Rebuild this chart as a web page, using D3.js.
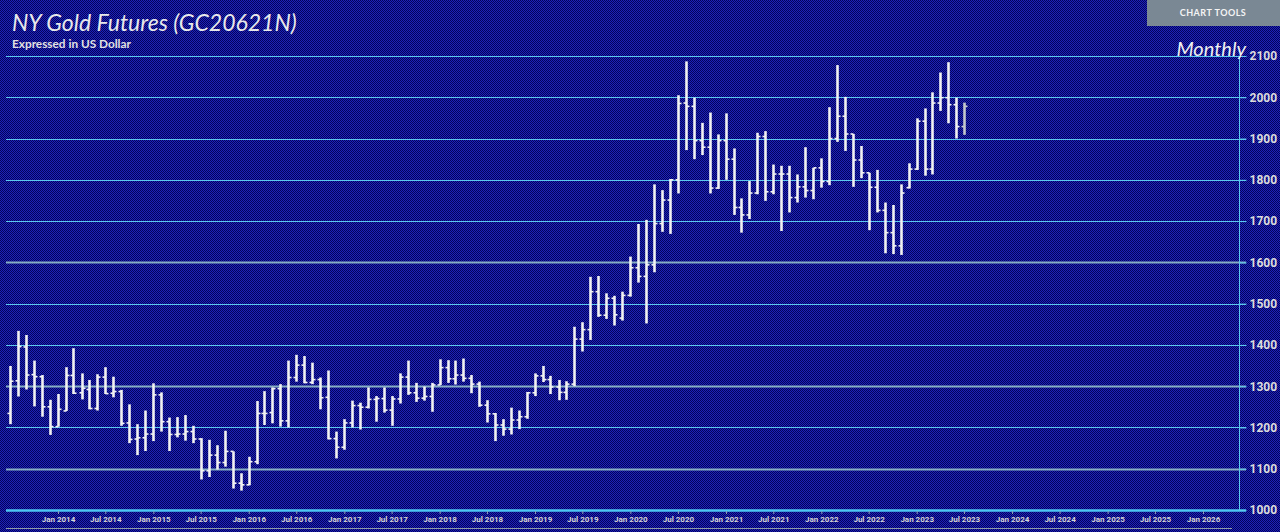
<!DOCTYPE html>
<html>
<head>
<meta charset="utf-8">
<script src="https://d3js.org/d3.v7.min.js"></script>
<style>
  body { margin: 0; background: #10108a; overflow: hidden; }
  svg { display: block; }
</style>
</head>
<body>
<div id="chart"></div>
<script>

// monthly bars, Jul 2013 .. Jul 2023 (one value per month)
var firstMonth = "2013-07";
var lastMonth = "2023-07";

var opens = [
  1234, 1313, 1395, 1328, 1323, 1250,
  1202, 1240, 1326, 1284, 1292, 1246, 1322, 1283, 1287, 1211, 1172, 1175,
  1184, 1279, 1214, 1183, 1184, 1190, 1172, 1095, 1133, 1115, 1142, 1065,
  1061, 1117, 1234, 1236, 1294, 1216, 1321, 1351, 1309, 1316, 1273, 1173,
  1152, 1211, 1253, 1249, 1268, 1270, 1242, 1269, 1322, 1284, 1271, 1275,
  1303, 1345, 1318, 1327, 1319, 1305, 1254, 1233, 1206, 1196, 1218, 1226,
  1284, 1325, 1316, 1298, 1285, 1305, 1414, 1437, 1529, 1472, 1513, 1465,
  1520, 1587, 1566, 1594, 1694, 1751, 1800, 1986, 1978, 1895, 1879, 1780,
  1895, 1850, 1733, 1715, 1768, 1905, 1771, 1814, 1814, 1757, 1783, 1774,
  1829, 1796, 1900, 1954, 1911, 1848, 1817, 1782, 1726, 1672, 1640, 1781,
  1826, 1942, 1826, 1986, 1999, 1982, 1929
];
var highs = [
  1349, 1434, 1424, 1362, 1327, 1267,
  1281, 1346, 1392, 1331, 1315, 1329, 1346, 1323, 1291, 1256, 1208, 1241,
  1307, 1285, 1224, 1225, 1230, 1204, 1174, 1170, 1157, 1192, 1142, 1089,
  1129, 1264, 1288, 1297, 1305, 1362, 1376, 1373, 1357, 1321, 1338, 1190,
  1220, 1265, 1260, 1297, 1276, 1297, 1276, 1331, 1362, 1308, 1299, 1308,
  1365, 1363, 1362, 1367, 1327, 1311, 1266, 1235, 1220, 1248, 1241, 1286,
  1331, 1349, 1325, 1315, 1312, 1444, 1455, 1565, 1567, 1525, 1519, 1529,
  1614, 1693, 1703, 1789, 1775, 1802, 2005, 2087, 1999, 1938, 1963, 1910,
  1961, 1876, 1755, 1797, 1914, 1918, 1837, 1834, 1834, 1813, 1879, 1829,
  1852, 1976, 2078, 2001, 1911, 1882, 1817, 1824, 1745, 1739, 1789, 1840,
  1949, 1973, 2012, 2060, 2085, 1999, 1987
];
var lows = [
  1208, 1275, 1292, 1251, 1226, 1182,
  1202, 1240, 1281, 1268, 1244, 1241, 1281, 1273, 1204, 1162, 1133, 1143,
  1167, 1190, 1143, 1176, 1168, 1162, 1074, 1080, 1098, 1105, 1052, 1047,
  1060, 1111, 1206, 1210, 1202, 1200, 1311, 1307, 1305, 1244, 1171, 1125,
  1146, 1200, 1195, 1246, 1214, 1236, 1204, 1258, 1279, 1262, 1265, 1238,
  1303, 1308, 1304, 1311, 1283, 1250, 1212, 1167, 1180, 1183, 1196, 1221,
  1276, 1310, 1281, 1266, 1267, 1300, 1384, 1412, 1468, 1463, 1447, 1459,
  1517, 1551, 1452, 1576, 1674, 1669, 1767, 1872, 1850, 1860, 1767, 1778,
  1800, 1715, 1672, 1705, 1765, 1749, 1765, 1676, 1721, 1745, 1757, 1753,
  1781, 1787, 1892, 1870, 1783, 1804, 1678, 1721, 1622, 1620, 1618, 1779,
  1824, 1810, 1813, 1967, 1937, 1900, 1909
];
var closes = [
  1312, 1396, 1327, 1323, 1250, 1202,
  1244, 1326, 1283, 1295, 1246, 1322, 1282, 1287, 1210, 1171, 1175, 1184,
  1279, 1214, 1183, 1184, 1190, 1172, 1095, 1133, 1115, 1142, 1065, 1061,
  1117, 1234, 1234, 1294, 1216, 1321, 1351, 1309, 1316, 1272, 1173, 1152,
  1211, 1253, 1249, 1268, 1270, 1242, 1269, 1322, 1284, 1271, 1275, 1303,
  1345, 1318, 1327, 1319, 1305, 1254, 1233, 1206, 1196, 1218, 1226, 1284,
  1325, 1316, 1298, 1285, 1305, 1414, 1437, 1529, 1472, 1513, 1473, 1520,
  1587, 1566, 1594, 1694, 1751, 1800, 1985, 1978, 1895, 1879, 1780, 1895,
  1850, 1733, 1715, 1768, 1905, 1771, 1814, 1814, 1757, 1783, 1774, 1829,
  1796, 1900, 1954, 1911, 1848, 1817, 1782, 1726, 1672, 1640, 1768, 1826,
  1942, 1826, 1986, 1999, 1982, 1929, 1978
];

// axis ticks
var priceTicks = [1000, 1100, 1200, 1300, 1400, 1500, 1600, 1700, 1800, 1900, 2000, 2100];
var dateTicks = ["2014-01", "2014-07", "2015-01", "2015-07", "2016-01", "2016-07",
  "2017-01", "2017-07", "2018-01", "2018-07", "2019-01", "2019-07", "2020-01",
  "2020-07", "2021-01", "2021-07", "2022-01", "2022-07", "2023-01", "2023-07",
  "2024-01", "2024-07", "2025-01", "2025-07", "2026-01"];
// grid lines that look faded in the original
var fadedLines = [1100, 1300, 1600];

var W = 1280, H = 532;
var parseMonth = d3.utcParse("%Y-%m");

var months = d3.utcMonth.range(parseMonth(firstMonth), d3.utcMonth.offset(parseMonth(lastMonth), 1));
var data = months.map(function(m, i) {
  return { date: m, o: opens[i], h: highs[i], l: lows[i], c: closes[i] };
});

var svg = d3.select("#chart").append("svg")
  .attr("width", W)
  .attr("height", H);

// dithered navy background
var defs = svg.append("defs");
var pat = defs.append("pattern")
  .attr("id", "dither")
  .attr("width", 2).attr("height", 2)
  .attr("patternUnits", "userSpaceOnUse");
pat.append("rect").attr("width", 2).attr("height", 2).attr("fill", "#1e22b8");
pat.append("rect").attr("x", 0).attr("y", 0).attr("width", 1).attr("height", 1).attr("fill", "#03035c");
pat.append("rect").attr("x", 1).attr("y", 1).attr("width", 1).attr("height", 1).attr("fill", "#03035c");

svg.append("rect")
  .attr("width", W).attr("height", H)
  .attr("fill", "url(#dither)")
  .attr("shape-rendering", "crispEdges");

var plotLeft = 6, plotRight = 1239, plotTop = 56, plotBottom = 510;

var x = d3.scaleUtc()
  .domain([parseMonth("2014-01"), parseMonth("2026-01")])
  .range([58, 1203]);

var y = d3.scaleLinear()
  .domain([1000, 2100])
  .range([plotBottom, plotTop]);

// horizontal grid
svg.append("g")
  .selectAll("line").data(priceTicks).enter()
  .append("line")
  .attr("x1", plotLeft)
  .attr("x2", plotRight + 7)
  .attr("y1", function(d) { return Math.round(y(d)) + 0.5; })
  .attr("y2", function(d) { return Math.round(y(d)) + 0.5; })
  .attr("stroke", function(d) { return fadedLines.indexOf(d) >= 0 ? "#86aec4" : "#5cc8ee"; })
  .attr("stroke-width", function(d) { return fadedLines.indexOf(d) >= 0 ? 2 : 1; });

// bottom axis line (thicker)
svg.append("line")
  .attr("x1", plotLeft).attr("x2", plotRight + 7)
  .attr("y1", plotBottom + 0.5).attr("y2", plotBottom + 0.5)
  .attr("stroke", "#4cc4f2")
  .attr("stroke-width", 2.5);

// right axis
var yAxis = svg.append("g")
  .attr("transform", "translate(" + (plotRight + 0.5) + ",0)")
  .call(d3.axisRight(y).tickValues(priceTicks).tickSize(7).tickPadding(3).tickFormat(d3.format("d")));
yAxis.select(".domain").attr("stroke", "#5cc8ee").attr("d", "M0," + plotTop + "V" + plotBottom);
yAxis.selectAll(".tick line").attr("stroke", "#5cc8ee");
yAxis.selectAll(".tick text")
  .attr("fill", "#dcdcdc")
  .style("font-family", "Roboto, sans-serif")
  .style("font-size", "12px")
  .style("font-weight", "bold");

// bottom axis
var xAxis = svg.append("g")
  .attr("transform", "translate(0," + (plotBottom + 1) + ")")
  .call(d3.axisBottom(x)
    .tickValues(dateTicks.map(parseMonth))
    .tickSize(3).tickPadding(2)
    .tickFormat(d3.utcFormat("%b %Y")));
xAxis.select(".domain").remove();
xAxis.selectAll(".tick line").attr("stroke", "#8aa0b8");
xAxis.selectAll(".tick text")
  .attr("fill", "#d4d4d4")
  .style("font-family", "Roboto, sans-serif")
  .style("font-size", "8px")
  .style("font-weight", "bold");

// navigator strip (cut off at the bottom)
svg.append("line")
  .attr("x1", plotLeft).attr("x2", 1232)
  .attr("y1", 528.5).attr("y2", 528.5)
  .attr("stroke", "#8d9aa8").attr("stroke-width", 1);

// OHLC bars
var bars = svg.append("g").selectAll("g").data(data).enter()
  .append("g")
  .attr("stroke", function(d, i) { return i == data.length - 1 ? "#c4c8cc" : "#f2f2f2"; });

bars.append("line")
  .attr("x1", function(d) { return Math.round(x(d.date)) + 0.5; })
  .attr("x2", function(d) { return Math.round(x(d.date)) + 0.5; })
  .attr("y1", function(d) { return y(d.h); })
  .attr("y2", function(d) { return y(d.l); })
  .attr("stroke-width", 2.6);

bars.append("line")
  .attr("x1", function(d) { return Math.round(x(d.date)) - 2.5; })
  .attr("x2", function(d) { return Math.round(x(d.date)) + 0.5; })
  .attr("y1", function(d) { return y(d.o); })
  .attr("y2", function(d) { return y(d.o); })
  .attr("stroke-width", 1.6);

bars.append("line")
  .attr("x1", function(d) { return Math.round(x(d.date)) + 0.5; })
  .attr("x2", function(d) { return Math.round(x(d.date)) + 3.5; })
  .attr("y1", function(d) { return y(d.c); })
  .attr("y2", function(d) { return y(d.c); })
  .attr("stroke-width", 1.6);

// titles
svg.append("text")
  .attr("x", 12).attr("y", 31)
  .style("font-family", "Lato, sans-serif")
  .style("font-style", "italic")
  .style("font-size", "23px")
  .attr("fill", "#e8e8ea")
  .text("NY Gold Futures (GC20621N)");

svg.append("text")
  .attr("x", 12).attr("y", 48)
  .style("font-family", "Lato, sans-serif")
  .style("font-weight", "bold")
  .style("font-size", "11.8px")
  .attr("fill", "#e2e2e2")
  .text("Expressed in US Dollar");

svg.append("text")
  .attr("x", 1246).attr("y", 56)
  .attr("text-anchor", "end")
  .style("font-family", "Lato, sans-serif")
  .style("font-style", "italic")
  .style("font-size", "20px")
  .attr("fill", "#f0f0f0")
  .text("Monthly");

// chart tools button
svg.append("rect")
  .attr("x", 1147).attr("y", 0)
  .attr("width", 133).attr("height", 26)
  .attr("fill", "#7a8894");
svg.append("text")
  .attr("x", 1213).attr("y", 16)
  .attr("text-anchor", "middle")
  .style("font-family", "Lato, sans-serif")
  .style("font-weight", "bold")
  .style("font-size", "9px")
  .style("letter-spacing", "0.5px")
  .attr("fill", "#f4f4f4")
  .text("CHART TOOLS");

</script>
</body>
</html>
